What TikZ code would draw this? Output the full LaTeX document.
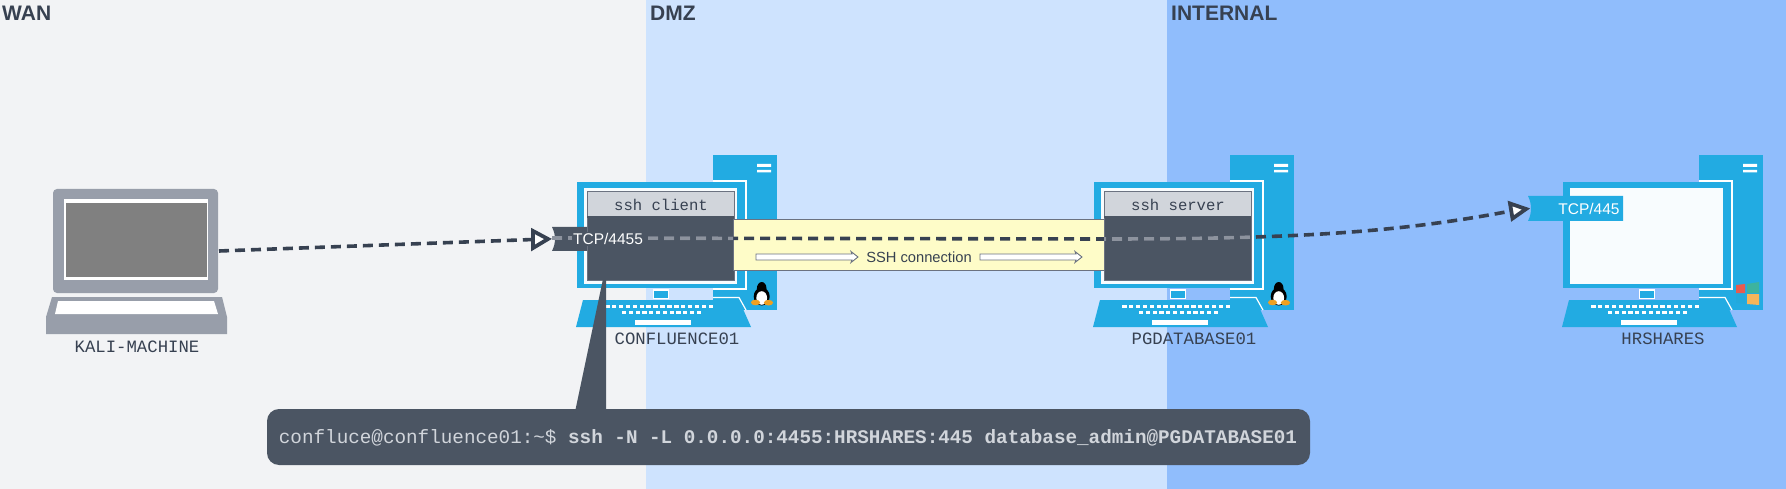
\documentclass[tikz,border=0pt]{standalone}
\usepackage{fontspec}
\setmainfont{Liberation Sans}
\setmonofont{Liberation Mono}
\usetikzlibrary{arrows.meta}
\definecolor{wanbg}{HTML}{F2F3F5}
\definecolor{dmzbg}{HTML}{CEE3FE}
\definecolor{intbg}{HTML}{90BDFC}
\definecolor{pcblue}{HTML}{22ABE2}
\definecolor{slate}{HTML}{4B5563}
\definecolor{ink}{HTML}{374151}
\definecolor{lapgray}{HTML}{989EAA}
\definecolor{hdrgray}{HTML}{D1D5DB}
\definecolor{band}{HTML}{FEFCC8}
\definecolor{edgegray}{HTML}{6B7280}
\definecolor{dashgray}{HTML}{8D939E}
\definecolor{winred}{HTML}{E85B4F}
\definecolor{wingreen}{HTML}{3DB39E}
\definecolor{winblue}{HTML}{22A9DC}
\definecolor{winorange}{HTML}{F5B55A}
\definecolor{tuxorange}{HTML}{F0A020}
\tikzset{
  zonelabel/.style={font=\bfseries\fontsize{21}{21}\selectfont,text=ink,anchor=base west,inner sep=0},
  hostlabel/.style={font=\ttfamily\fontsize{17.3}{17.3}\selectfont,text=ink,inner sep=0},
  screenhdr/.style={font=\ttfamily\fontsize{15.6}{15.6}\selectfont,text=ink,inner sep=0},
  portlabel/.style={font=\fontsize{15.5}{15.5}\selectfont,text=white,inner sep=1pt},
  bandarrow/.style={draw=edgegray,fill=white,line width=.9pt,line join=miter},
  link/.style={line width=3.6pt,dash pattern=on 10pt off 6pt},
  headtip/.style={draw=ink,fill=white,line width=3.8pt,line join=miter},
  pc/.pic={
    \fill[pcblue] (713,155) rectangle (777,310);
    \fill[white] (757,164) rectangle (771,167) (757,170) rectangle (771,172.5);
    \fill[white] (713,180) rectangle (747,290);
    \fill[pcblue] (713,290) rectangle (745,297);
    \fill[pcblue] (577,182) rectangle (745,288);
    \fill[white] (653,289) rectangle (669,299);
    \fill[pcblue] (654,291) rectangle (668,298);
    \fill[pcblue] (713,295) rectangle (745,310);
    \fill[pcblue] (583,300) -- (739,300) -- (751,327) -- (576,327) -- cycle;
    \draw[white,line width=1.2pt] (713,297.5) -- (739,297.5) -- (746,310);
    \foreach \k in {0,...,15} {\fill[white] ({605+\k*6.9},304.5) rectangle ({609.5+\k*6.9},308);}
    \foreach \k in {0,...,11} {\fill[white] ({622+\k*6.8},310.8) rectangle ({626.2+\k*6.8},314.2);}
    \fill[white] (635,320) rectangle (691,325);
    \fill[white!97!pcblue] (584,188) rectangle (737,284);
  },
  tux/.pic={
    \fill[black] (761.7,288.5) ellipse [x radius=4.8,y radius=6.5];
    \fill[black] (761.7,296.5) ellipse [x radius=8,y radius=9];
    \fill[white] (761.7,298) ellipse [x radius=5.4,y radius=6.8];
    \fill[tuxorange] (755.5,302.5) ellipse [x radius=4.6,y radius=2.8];
    \fill[tuxorange] (768.5,302.7) ellipse [x radius=4.6,y radius=2.8];
  },
}
\newcommand{\darkscreen}[1]{%
  \draw[fill=slate,draw=edgegray,line width=1pt] (587+#1,192) rectangle (734+#1,280);
  \draw[fill=hdrgray,draw=edgegray,line width=1pt] (587+#1,192) rectangle (734+#1,217);
  \draw[slate,line width=1.2pt] (587+#1,217) -- (734+#1,217);
}
\begin{document}
\begin{tikzpicture}[x=1pt,y=-1pt]
\useasboundingbox (0,0) rectangle (1786,489);
% zones
\fill[wanbg] (0,0) rectangle (646,489);
\fill[dmzbg] (646,0) rectangle (1167,489);
\fill[intbg] (1167,0) rectangle (1786,489);
\node[zonelabel] (wan) at (2,21) {WAN};
\node[zonelabel] (dmz) at (650,21) {DMZ};
\node[zonelabel] (internal) at (1171,21) {INTERNAL};
% laptop
\node[fill=lapgray,rounded corners=4pt,minimum width=165pt,minimum height=104pt,inner sep=0] (laptop) at (135.5,241) {};
\fill[white] (64,199) rectangle (208,280);
\fill[gray] (66,203) rectangle (206.5,277);
\fill[lapgray] (52,297) -- (222,297) -- (227,317) -- (227,334) -- (46,334) -- (46,317) -- cycle;
\fill[white] (58,301) -- (214,301) -- (218,314) -- (55,314) -- cycle;
\node[hostlabel] (kali) at (137,346.5) {KALI-MACHINE};
% computers
\pic at (0,0) {pc};
\pic at (517,0) {pc};
\pic at (986,0) {pc};
\pic at (0,0) {tux};
\pic at (517,0) {tux};
% windows logo
\fill[winred] (1736,285) -- (1745,284) -- (1745,293) -- (1736,293) -- cycle;
\fill[wingreen] (1747,284) -- (1759,282) -- (1759,293) -- (1747,293) -- cycle;
\fill[winblue] (1736,294) -- (1745,294) -- (1745,304) -- (1736,303) -- cycle;
\fill[winorange] (1747,294) -- (1759,294) -- (1759,305) -- (1747,304) -- cycle;
% port tabs
\fill[slate] (552,227) .. controls (556,235) and (556,243) .. (552,251) -- (590,251) -- (590,227) -- cycle;
\fill[pcblue] (1528,196) .. controls (1532,204) and (1532,213) .. (1528,221) -- (1623,221) -- (1623,196) -- cycle;
% screens
\darkscreen{0}
\darkscreen{517}
\node[screenhdr] (client) at (661,204.5) {ssh client};
\node[screenhdr] (server) at (1178,204.5) {ssh server};
% tunnel
\node[fill=band,draw=edgegray,line width=1pt,minimum width=371pt,minimum height=50pt,inner sep=0] (tunnel) at (918.5,245) {};
\node[font=\fontsize{14.7}{14.7}\selectfont,text=ink,inner sep=0] (sshconn) at (919,257) {SSH connection};
\draw[bandarrow] (756,254) -- (852,254) -- (851,251.5) -- (858,257) -- (851,262.5) -- (852,260) -- (756,260) -- cycle;
\draw[bandarrow] (980,254) -- (1076,254) -- (1075,251.5) -- (1082,257) -- (1075,262.5) -- (1076,260) -- (980,260) -- cycle;
% connectors
\coordinate (lapport) at (219,251);
\coordinate (baseb) at (1511,211);
\coordinate (basea) at (533,239.5);
\coordinate (starta) at (552,238);
\coordinate (midb) at (1104,239);
\draw[link,ink] (lapport) -- (basea);
\draw[link,ink] (starta) -- (midb) .. controls (1300,239) and (1400,232) .. (baseb);
\begin{scope}
  \clip (552,200) rectangle (733,280) (1104,200) rectangle (1253,280);
  \draw[link,dashgray] (starta) -- (midb) .. controls (1300,239) and (1400,232) .. (baseb);
\end{scope}
\draw[headtip] (533,231) -- (548,239) -- (533,248) -- cycle;
\draw[headtip] (1510,203.5) -- (1526,209) -- (1512.5,218.5) -- cycle;
% port labels
\node[portlabel,fill=slate] (tcpa) at (608,239) {TCP/4455};
\node[portlabel] (tcpb) at (1589,209) {TCP/445};
\node[hostlabel] (conf) at (677,339) {CONFLUENCE01};
\node[hostlabel] (pgdb) at (1194,339) {PGDATABASE01};
\node[hostlabel] (hrs) at (1663,339) {HRSHARES};
% callout
\fill[slate] (603,279) -- (606,279) -- (606,412) -- (575,412) -- cycle;
\node[fill=slate,rounded corners=12pt,minimum width=1043pt,minimum height=56pt,inner sep=0] (cmdbox) at (788.5,437) {};
\node[text=hdrgray,font=\ttfamily\fontsize{19.28}{19.28}\selectfont,inner sep=0] (cmd) at (788,437.5) {confluce@confluence01:\string~\$ \textbf{ssh -N -L 0.0.0.0:4455:HRSHARES:445 database\_admin@PGDATABASE01}};
\end{tikzpicture}
\end{document}
